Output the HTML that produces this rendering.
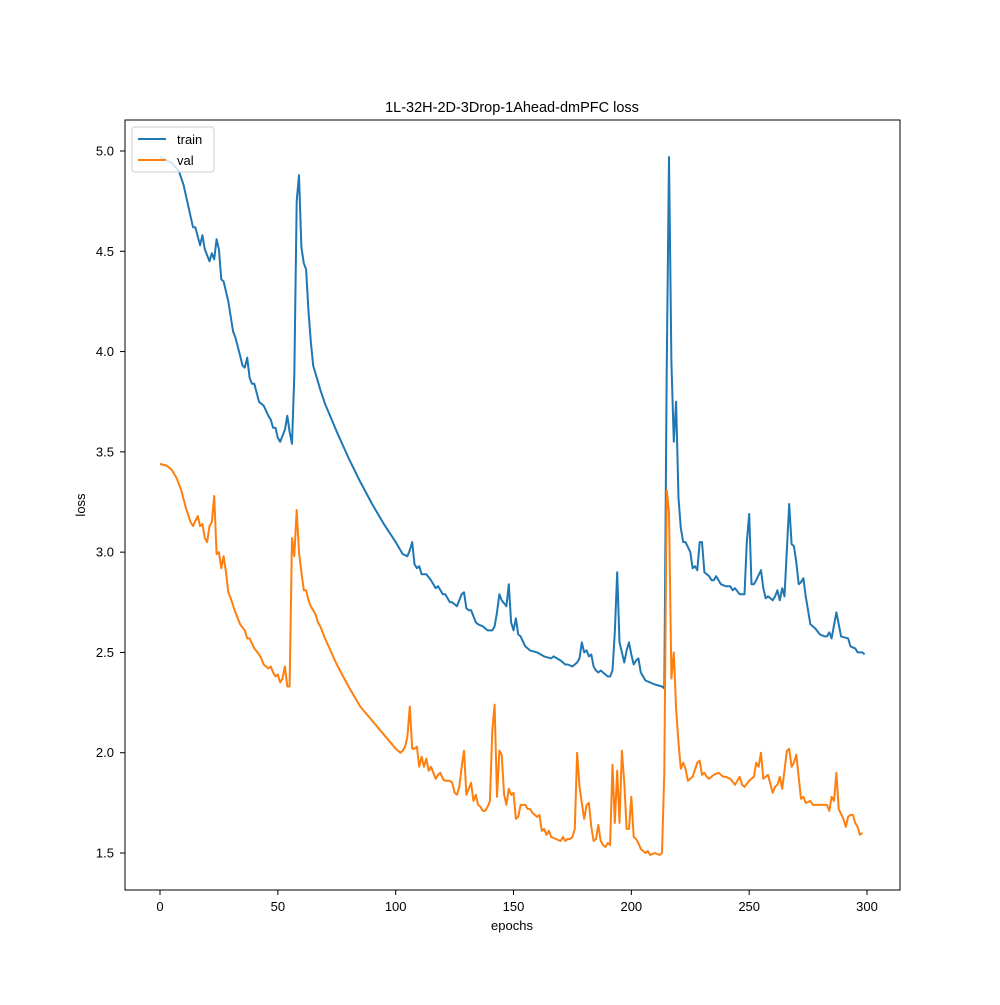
<!DOCTYPE html>
<html><head><meta charset="utf-8"><style>
body{margin:0;background:#fff}
text{font-family:"Liberation Sans","DejaVu Sans",sans-serif;fill:#000}
</style></head><body>
<svg id="chart" width="1000" height="1000" xmlns="http://www.w3.org/2000/svg">
<rect width="1000" height="1000" fill="#fff"/>
<text x="512" y="112" font-size="14.5" text-anchor="middle">1L-32H-2D-3Drop-1Ahead-dmPFC loss</text>
<g id="plot"></g>
<g id="axes"></g>
<rect x="125" y="120" width="775" height="770" fill="none" stroke="#000" stroke-width="1"/>
<text x="512" y="930" font-size="13" text-anchor="middle">epochs</text>
<text x="0" y="0" font-size="13" text-anchor="middle" transform="translate(85,505) rotate(-90)">loss</text>
<g>
<rect x="132" y="127" width="82" height="45" rx="3" fill="#fff" fill-opacity="0.8" stroke="#ccc"/>
<line x1="138" y1="139" x2="166" y2="139" stroke="#1f77b4" stroke-width="2"/>
<text x="177" y="144" font-size="13">train</text>
<line x1="138" y1="160" x2="166" y2="160" stroke="#ff7f0e" stroke-width="2"/>
<text x="177" y="165" font-size="13">val</text>
</g>
</svg>
<script>
const xTicks=[0,50,100,150,200,250,300];
const yTicks=[1.5,2.0,2.5,3.0,3.5,4.0,4.5,5.0];
const yTickLabels=["1.5","2.0","2.5","3.0","3.5","4.0","4.5","5.0"];
const trainEpochs=[0,5,8,10,14,15,17,18,19,21,22,23,24,25,26,27,29,31,32,34,35,36,37,38,39,40,42,43,44,46,47,48,49,50,51,53,54,55,56,57,58,59,60,61,62,63,64,65,68,70,75,80,85,90,95,100,103,105,106,107,108,109,110,111,113,115,117,118,120,121,123,124,126,128,129,130,131,132,134,135,137,139,141,142,143,144,145,147,148,149,150,151,152,153,155,157,160,163,166,167,170,172,173,175,177,178,179,180,181,182,183,184,185,186,187,189,190,191,192,193,194,195,197,198,199,200,201,202,203,204,206,210,213,214,215,216,217,218,219,220,221,222,223,225,226,227,228,229,230,231,233,234,235,236,238,240,242,243,244,246,248,249,250,251,252,253,255,256,257,258,260,261,262,263,264,265,267,268,269,270,271,272,273,274,276,278,280,282,283,284,285,287,289,292,293,295,296,298,299];
const trainLoss=[4.97,4.94,4.90,4.83,4.62,4.62,4.53,4.58,4.51,4.45,4.49,4.46,4.56,4.51,4.36,4.35,4.25,4.10,4.07,3.98,3.93,3.92,3.97,3.87,3.84,3.84,3.75,3.74,3.73,3.68,3.66,3.62,3.62,3.57,3.55,3.61,3.68,3.60,3.54,3.88,4.75,4.88,4.52,4.44,4.41,4.20,4.05,3.93,3.81,3.74,3.60,3.47,3.35,3.24,3.14,3.05,2.99,2.98,3.01,3.05,2.94,2.92,2.93,2.89,2.89,2.86,2.82,2.83,2.79,2.79,2.75,2.75,2.73,2.79,2.80,2.72,2.71,2.71,2.65,2.64,2.63,2.61,2.61,2.63,2.70,2.79,2.76,2.73,2.84,2.65,2.61,2.67,2.59,2.58,2.53,2.51,2.50,2.48,2.47,2.48,2.46,2.44,2.44,2.43,2.45,2.47,2.55,2.50,2.51,2.48,2.49,2.43,2.41,2.40,2.41,2.39,2.38,2.38,2.41,2.60,2.90,2.55,2.45,2.51,2.55,2.49,2.44,2.46,2.47,2.40,2.36,2.34,2.33,2.32,3.9,4.97,3.95,3.55,3.75,3.27,3.12,3.05,3.05,3.00,2.92,2.93,2.91,3.05,3.05,2.90,2.88,2.86,2.86,2.88,2.84,2.83,2.83,2.81,2.82,2.79,2.79,3.05,3.19,2.84,2.84,2.86,2.91,2.82,2.77,2.78,2.76,2.78,2.81,2.76,2.82,2.78,3.24,3.04,3.03,2.95,2.84,2.85,2.87,2.78,2.64,2.62,2.59,2.58,2.58,2.60,2.57,2.70,2.58,2.57,2.53,2.52,2.50,2.50,2.49];
const valEpochs=[0,3,5,7,9,11,13,14,16,17,18,19,20,21,22,23,24,25,26,27,28,29,30,32,33,34,36,37,38,40,42,43,44,46,47,48,49,50,51,52,53,54,55,56,57,58,59,60,61,62,63,64,66,67,68,70,75,80,85,90,95,100,102,103,104,105,106,107,108,109,110,111,112,113,114,115,117,118,119,120,121,123,124,125,126,127,128,129,130,131,132,133,134,135,136,137,138,139,140,141,142,143,144,145,146,147,148,149,150,151,152,153,155,156,157,158,160,161,162,163,164,165,166,168,170,171,172,173,174,175,176,177,178,179,180,181,182,183,184,185,186,187,188,189,190,191,192,193,194,195,196,197,198,199,200,201,202,203,204,205,206,207,208,210,212,213,214,215,216,217,218,219,220,221,222,223,224,226,228,229,230,231,232,233,235,237,239,240,242,244,246,247,248,250,251,252,253,254,255,256,258,260,261,262,263,264,266,267,268,269,270,272,273,274,276,277,280,283,284,285,286,287,288,290,291,292,293,294,295,296,297,298];
const valLoss=[3.44,3.43,3.41,3.37,3.31,3.22,3.15,3.13,3.18,3.13,3.14,3.07,3.05,3.13,3.15,3.28,2.99,3.00,2.92,2.98,2.90,2.80,2.77,2.70,2.67,2.64,2.61,2.57,2.57,2.52,2.49,2.47,2.44,2.42,2.43,2.40,2.38,2.39,2.35,2.37,2.43,2.33,2.33,3.07,2.98,3.21,3.00,2.90,2.81,2.81,2.76,2.73,2.69,2.65,2.63,2.57,2.44,2.33,2.23,2.16,2.09,2.02,2.00,2.01,2.03,2.08,2.23,2.02,2.02,2.03,1.93,1.98,1.93,1.97,1.91,1.93,1.87,1.89,1.90,1.87,1.86,1.86,1.85,1.80,1.79,1.83,1.93,2.01,1.79,1.82,1.85,1.76,1.79,1.74,1.73,1.71,1.71,1.73,1.76,2.11,2.24,1.78,2.01,1.99,1.79,1.74,1.82,1.79,1.80,1.67,1.68,1.74,1.74,1.72,1.72,1.70,1.68,1.69,1.61,1.62,1.59,1.61,1.58,1.57,1.56,1.58,1.56,1.57,1.57,1.58,1.62,2.00,1.83,1.75,1.67,1.74,1.75,1.63,1.56,1.57,1.64,1.56,1.54,1.53,1.55,1.54,1.94,1.65,1.91,1.65,2.01,1.85,1.62,1.62,1.78,1.58,1.57,1.55,1.52,1.51,1.50,1.51,1.49,1.50,1.49,1.50,1.90,3.31,3.20,2.37,2.50,2.22,2.05,1.92,1.95,1.92,1.86,1.88,1.95,1.96,1.89,1.90,1.88,1.87,1.89,1.90,1.88,1.88,1.87,1.84,1.88,1.84,1.83,1.86,1.87,1.88,1.95,1.93,2.00,1.87,1.89,1.80,1.83,1.84,1.88,1.82,2.01,2.02,1.93,1.95,1.99,1.77,1.78,1.75,1.76,1.74,1.74,1.74,1.71,1.78,1.76,1.90,1.72,1.67,1.63,1.68,1.69,1.69,1.65,1.63,1.59,1.60];

const NS="http://www.w3.org/2000/svg";
function xS(v){return 160+(v-0)*(867-160)/300;}
function yS(v){return 151+(5.0-v)*(853-151)/3.5;}
const plot=document.getElementById('plot');
const axes=document.getElementById('axes');
function mk(tag,attrs,parent){const e=document.createElementNS(NS,tag);for(const k in attrs)e.setAttribute(k,attrs[k]);parent.appendChild(e);return e;}
xTicks.forEach(t=>{
  const l=mk('line',{x1:xS(t),x2:xS(t),y1:890,y2:895,stroke:'#000'},axes);
  
  
  const tx=mk('text',{x:xS(t),y:911,'font-size':13,'text-anchor':'middle'},axes);
  tx.textContent=String(t);
  
  
});
yTicks.forEach((t,i)=>{
  const l=mk('line',{x1:120,x2:125,y1:yS(t),y2:yS(t),stroke:'#000'},axes);
  
  
  const tx=mk('text',{x:114,y:yS(t)+4.5,'font-size':13,'text-anchor':'end'},axes);
  tx.textContent=yTickLabels[i];
  
  
});
function line(xs,ys,color,name){
  const d=xs.map((x,i)=>(i?'L':'M')+xS(x).toFixed(1)+' '+yS(ys[i]).toFixed(1)).join(' ');
  const p=mk('path',{d:d,fill:'none',stroke:color,'stroke-width':2,'stroke-linejoin':'round'},plot);
  
  
}
line(trainEpochs,trainLoss,'#1f77b4','train-line');
line(valEpochs,valLoss,'#ff7f0e','val-line');
</script>
</body></html>
